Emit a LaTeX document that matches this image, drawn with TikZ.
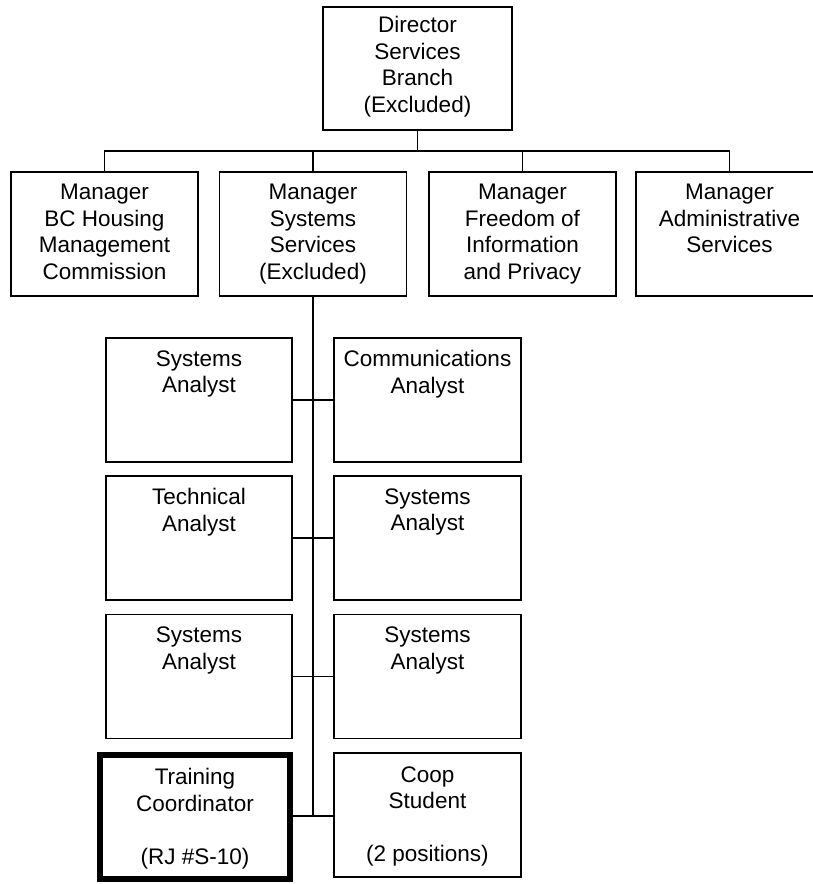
\documentclass[tikz,border=0pt]{standalone}
\usepackage{fontspec}
\setmainfont{Liberation Sans}
\begin{document}
\begin{tikzpicture}[x=1pt,y=-1pt,
  box/.style={draw=black, line width=1.8pt, rectangle, inner sep=0pt, minimum height=124pt},
  thickbox/.style={draw=black, line width=6pt, rectangle, inner sep=0pt, minimum width=190pt, minimum height=124pt},
  lbl/.style={anchor=north, inner sep=0pt, align=center, text=black, font=\fontsize{22.5}{26.5}\selectfont},
  wire/.style={draw=black, line width=1.8pt}]
\useasboundingbox (0,0) rectangle (812,884);
\fill[white] (0,0) rectangle (812,884);

% Director
\node[box, minimum width=189pt, minimum height=123pt] (dir) at (417.5,68.5) {};
\node[lbl] (tdir) at ([yshift=-10pt]dir.north) {Director\\Services\\Branch\\(Excluded)};

% Managers
\node[box, minimum width=187pt] (m1) at (104.5,234) {};
\node[box, minimum width=187pt] (m2) at (313,234) {};
\node[box, minimum width=187pt] (m3) at (522.5,234) {};
\node[box, minimum width=187pt] (m4) at (729.5,234) {};
\node[lbl] (tm1) at ([yshift=-13pt]m1.north) {Manager\\BC Housing\\Management\\Commission};
\node[lbl] (tm2) at ([yshift=-13pt]m2.north) {Manager\\Systems\\Services\\(Excluded)};
\node[lbl] (tm3) at ([yshift=-13pt]m3.north) {Manager\\Freedom of\\Information\\and Privacy};
\node[lbl] (tm4) at ([yshift=-13pt]m4.north) {Manager\\Administrative\\Services};

% Staff rows
\node[box, minimum width=186pt] (l1) at (199,400) {};
\node[box, minimum width=187pt] (r1) at (427.5,400) {};
\node[box, minimum width=186pt] (l2) at (199,538) {};
\node[box, minimum width=187pt] (r2) at (427.5,538) {};
\node[box, minimum width=186pt] (l3) at (199,676.5) {};
\node[box, minimum width=187pt] (r3) at (427.5,676.5) {};
\node[thickbox] (l4) at (195,817) {};
\node[box, minimum width=187pt] (r4) at (427.5,815) {};

\node[lbl] (tl1) at ([yshift=-13pt]l1.north) {Systems\\Analyst};
\node[lbl] (tr1) at ([yshift=-13pt]r1.north) {Communications\\Analyst};
\node[lbl] (tl2) at ([yshift=-13pt]l2.north) {Technical\\Analyst};
\node[lbl] (tr2) at ([yshift=-13pt]r2.north) {Systems\\Analyst};
\node[lbl] (tl3) at ([yshift=-13pt]l3.north) {Systems\\Analyst};
\node[lbl] (tr3) at ([yshift=-13pt]r3.north) {Systems\\Analyst};
\node[lbl] (tl4) at ([yshift=-16pt]l4.north) {Training\\Coordinator\\[26.5pt](RJ \#S-10)};
\node[lbl] (tr4) at ([yshift=-14pt]r4.north) {Coop\\Student\\[26.5pt](2 positions)};

% Connectors
\coordinate (bus) at (0,151);
\draw[wire] (dir.south) -- (dir.south |- bus);
\draw[wire] (m1.north) |- (m4.north |- bus) -- (m4.north);
\draw[wire] (m2.north) -- (m2.north |- bus);
\draw[wire] (m3.north) -- (m3.north |- bus);
\coordinate (trunkend) at (313,816);
\draw[wire] (m2.south) -- (trunkend);
\draw[wire] (l1.east) -- (l1.east -| r1.west);
\draw[wire] (l2.east) -- (l2.east -| r2.west);
\draw[wire] (l3.east) -- (l3.east -| r3.west);
\draw[wire] (l4.east |- trunkend) -- (trunkend -| r4.west);
\end{tikzpicture}
\end{document}
